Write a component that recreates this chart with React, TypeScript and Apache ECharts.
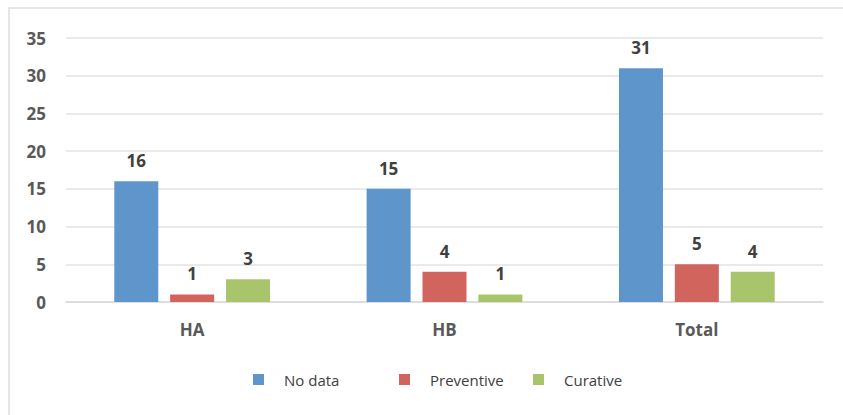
import React, { useEffect, useRef } from "react";
import * as echarts from "echarts";

const categories = ["HA", "HB", "Total"];
const noData = [16, 15, 31];
const preventive = [1, 4, 5];
const curative = [3, 1, 4];
const seriesNames = ["No data", "Preventive", "Curative"];
const colors = ["#5E96CB", "#D1645D", "#A9C56B"];

export default function App() {
  const ref = useRef<HTMLDivElement>(null);
  useEffect(() => {
    if (!ref.current) return;
    const chart = echarts.init(ref.current, undefined, { renderer: "svg" });
    const font = "'Open Sans', Lato, sans-serif";
    const label = {
      show: true,
      position: "top" as const,
      distance: 12,
      color: "#404040",
      fontSize: 17,
      fontWeight: "bold" as const,
      fontFamily: font,
    };
    const values = [noData, preventive, curative];
    const legendLefts = [248, 394, 528];
    chart.setOption({
      animation: false,
      color: colors,
      graphic: [
        {
          type: "rect",
          shape: { x: 9, y: 8, width: 900, height: 500 },
          style: { fill: "none", stroke: "#dedede", lineWidth: 1.5 },
          silent: true,
        },
      ],
      legend: seriesNames.map((n, i) => ({
        data: [n],
        left: legendLefts[i],
        top: 367,
        itemWidth: 11,
        itemHeight: 11,
        icon: "rect",
        textStyle: {
          color: "#404040",
          fontSize: 15,
          fontFamily: font,
          padding: [0, 0, 0, 15],
        },
      })),
      grid: { left: 66, right: 20, top: 38, bottom: 113, containLabel: false },
      xAxis: {
        type: "category",
        data: categories,
        axisLine: { lineStyle: { color: "#d9d9d9", width: 1.5 } },
        axisTick: { show: false },
        axisLabel: {
          color: "#595959",
          fontSize: 17,
          fontWeight: "bold",
          fontFamily: font,
          margin: 19,
        },
      },
      yAxis: {
        type: "value",
        min: 0,
        max: 35,
        interval: 5,
        axisLine: { show: false },
        axisTick: { show: false },
        splitLine: { lineStyle: { color: "#e3e3e3", width: 1.5 } },
        axisLabel: {
          color: "#595959",
          fontSize: 17,
          fontWeight: "bold",
          fontFamily: font,
          margin: 20,
        },
      },
      series: seriesNames.map((n, i) => ({
        name: n,
        type: "bar",
        data: values[i],
        barWidth: 44,
        barGap: "27%",
        label,
        itemStyle: { color: colors[i] },
      })),
    });
    return () => chart.dispose();
  }, []);
  return (
    <div
      ref={ref}
      style={{ position: "fixed", left: 0, top: 0, width: 843, height: 415, background: "#fff" }}
    />
  );
}
